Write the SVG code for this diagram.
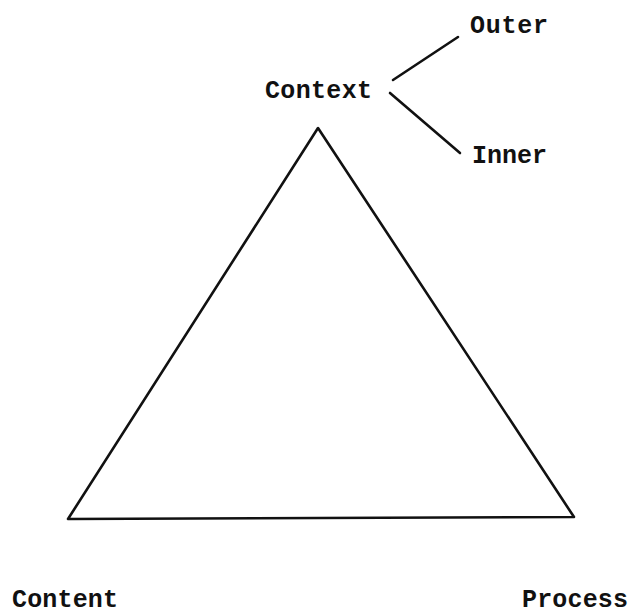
<svg xmlns="http://www.w3.org/2000/svg" width="630" height="614" viewBox="0 0 630 614">
<style>
text{font-family:"Liberation Mono","Courier New",monospace;font-size:25px;font-weight:bold;fill:#111}
.ln{stroke:#111;stroke-width:2.6;fill:none;stroke-linecap:round;stroke-linejoin:round}
</style>
<rect width="630" height="614" fill="#fff"/>
<g id="connectors">
<polygon class="ln" points="318,128 68,519 574,517"/>
<line class="ln" x1="393" y1="80" x2="458" y2="37"/>
<line class="ln" x1="390" y1="93" x2="460" y2="153"/>
</g>
<g id="context"><text x="265" y="98" textLength="107">Context</text></g>
<g id="outer"><text x="470" y="33" textLength="78">Outer</text></g>
<g id="inner"><text x="472" y="163" textLength="75">Inner</text></g>
<g id="content"><text x="12" y="607" textLength="106">Content</text></g>
<g id="process"><text x="522" y="607" textLength="106">Process</text></g>
</svg>
